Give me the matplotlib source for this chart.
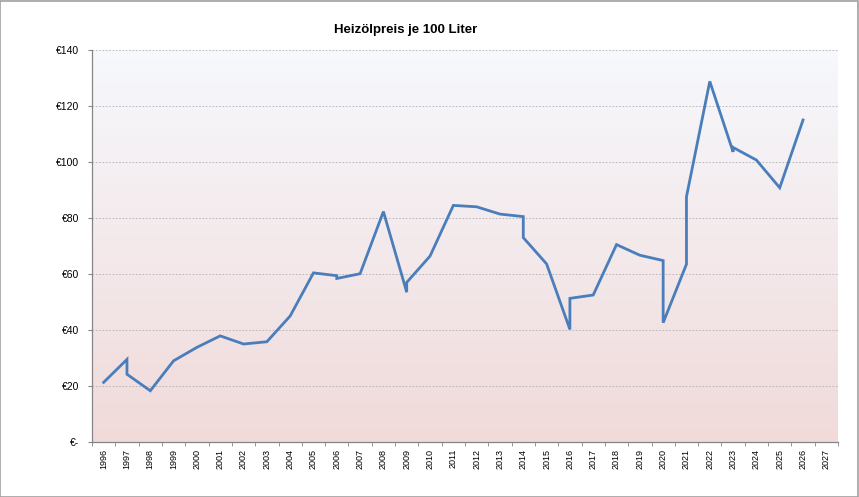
import numpy as np
import matplotlib
matplotlib.use("Agg")
import matplotlib.pyplot as plt
from matplotlib.patches import Rectangle

# years shown on the category axis
years = list(range(1996, 2028))

# data points (some years have two values -> vertical step)
point_years = [1996, 1997, 1997, 1998, 1999, 2000, 2001, 2002, 2003, 2004, 2005,
               2006, 2006, 2007, 2008, 2009, 2009, 2010, 2011, 2012, 2013, 2014,
               2014, 2015, 2016, 2016, 2017, 2018, 2019, 2020, 2020, 2021, 2021,
               2022, 2023, 2023, 2024, 2025, 2026]
prices = [21.3, 29.5, 24.2, 18.3, 29.0, 33.8, 37.9, 35.0, 35.8, 45.0, 60.4,
          59.4, 58.4, 60.1, 82.3, 53.5, 57.0, 66.4, 84.5, 84.0, 81.4, 80.5,
          73.0, 63.6, 40.2, 51.3, 52.5, 70.5, 66.7, 64.8, 42.6, 63.5, 87.6,
          128.8, 103.6, 105.2, 100.7, 90.8, 115.0]

y_ticks = [0, 20, 40, 60, 80, 100, 120, 140]
y_labels = ["€-", "€20", "€40", "€60", "€80", "€100", "€120", "€140"]

plt.rcParams['font.family'] = ['Liberation Sans', 'DejaVu Sans']

fig = plt.figure(figsize=(8.59, 4.97), dpi=100)
ax = fig.add_axes([92 / 859, 1 - 442 / 497, 746 / 859, 392 / 497])

# gradient background (light blue top -> pink bottom)
top = np.array([0.965, 0.975, 0.992])
bottom = np.array([0.945, 0.855, 0.855])
t = np.linspace(0, 1, 256)[:, None]
grad = (top * (1 - t) + bottom * t)[:, None, :]
ax.imshow(grad, aspect='auto', extent=(1995.5, 2027.5, 0, 140),
          origin='upper', zorder=0)

ax.set_xlim(1995.5, 2027.5)
ax.set_ylim(0, 140)

for v in y_ticks[1:]:
    ax.axhline(v, color='#b0b0b0', linestyle=(0, (2, 2)), linewidth=0.6, zorder=1)

ax.plot(point_years, prices, color='#4a7ebb', linewidth=2.0,
        solid_joinstyle='miter', zorder=3)

ax.set_yticks(y_ticks)
ax.set_yticklabels(y_labels, fontsize=7.5)
ax.set_xticks(years)
ax.set_xticklabels([str(y) for y in years], rotation=90, fontsize=6.5)
ax.set_xticks([y - 0.5 for y in years] + [2027.5], minor=True)
ax.tick_params(axis='x', which='major', length=0, pad=5)
ax.tick_params(axis='x', which='minor', length=3, color='#868686', direction='out')
ax.tick_params(axis='y', length=3, color='#868686', direction='out', pad=6.5)

for s in ['top', 'right']:
    ax.spines[s].set_visible(False)
for s in ['left', 'bottom']:
    ax.spines[s].set_color('#868686')
    ax.spines[s].set_linewidth(0.9)

fig.text(406 / 859, 1 - 30 / 497, "Heizölpreis je 100 Liter", ha='center',
         va='center', fontsize=9.5, fontweight='bold')

# outer chart border
fig.patches.append(Rectangle((0.0005, 0.001), 0.998, 0.997, transform=fig.transFigure,
                             fill=False, edgecolor='#a0a0a0', linewidth=1.2))

fig.savefig("out.png", dpi=100)
